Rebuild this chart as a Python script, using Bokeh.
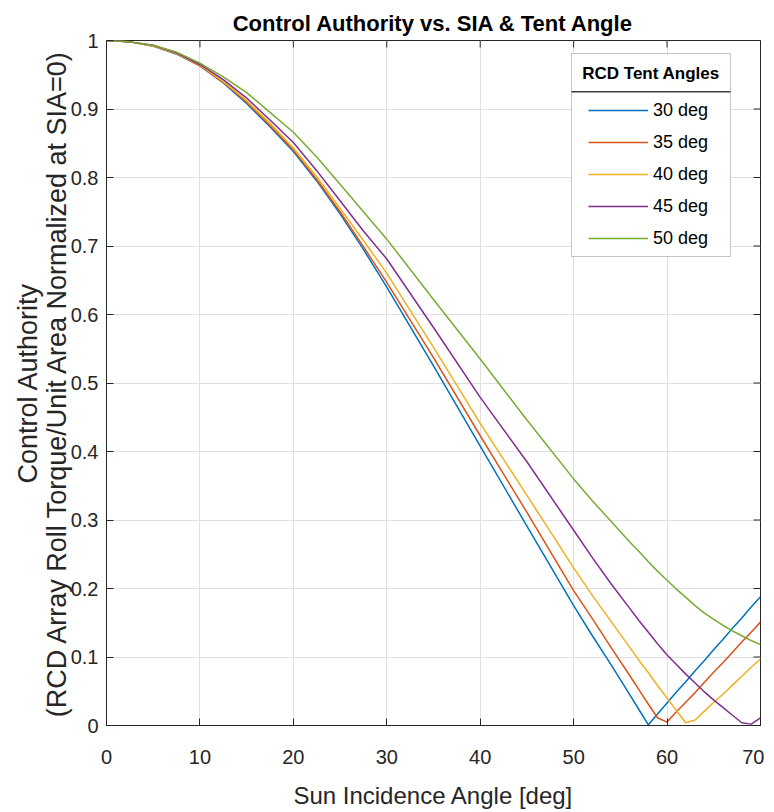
from bokeh.plotting import figure
from bokeh.models import (Range1d, FixedTicker, Legend, LegendItem,
                          BoxAnnotation, Label)
from bokeh.embed import file_html
from bokeh.resources import INLINE

# Sun incidence angle [deg]
sia = [0, 2.5, 5, 7.5, 10, 12.5, 15, 17.5, 20, 22.5, 25, 27.5, 30, 35, 40, 45, 50,
       52, 54, 56, 57, 58, 59, 60, 61, 62, 63, 64, 65, 66, 67, 68, 69, 70]

tent_30 = [1.000, 0.998, 0.992, 0.980, 0.963, 0.938, 0.908, 0.874, 0.838, 0.795, 0.747, 0.695,
           0.640, 0.525, 0.408, 0.291, 0.175, 0.131, 0.089, 0.045, 0.023, 0.001, 0.017, 0.033,
           0.049, 0.064, 0.080, 0.095, 0.111, 0.126, 0.142, 0.157, 0.173, 0.188]
tent_35 = [1.000, 0.998, 0.992, 0.981, 0.963, 0.939, 0.910, 0.876, 0.840, 0.797, 0.750, 0.699,
           0.647, 0.537, 0.423, 0.311, 0.197, 0.156, 0.114, 0.073, 0.052, 0.031, 0.011, 0.005,
           0.020, 0.034, 0.048, 0.063, 0.078, 0.092, 0.107, 0.122, 0.136, 0.151]
tent_40 = [1.000, 0.998, 0.992, 0.981, 0.964, 0.940, 0.912, 0.879, 0.843, 0.801, 0.755, 0.708,
           0.660, 0.552, 0.441, 0.336, 0.230, 0.190, 0.152, 0.114, 0.095, 0.077, 0.058, 0.040,
           0.022, 0.004, 0.008, 0.021, 0.034, 0.046, 0.059, 0.072, 0.085, 0.097]
tent_45 = [1.000, 0.998, 0.993, 0.982, 0.965, 0.943, 0.916, 0.884, 0.851, 0.810, 0.766, 0.722,
           0.681, 0.581, 0.479, 0.385, 0.285, 0.245, 0.207, 0.171, 0.153, 0.136, 0.119, 0.103,
           0.089, 0.075, 0.062, 0.049, 0.037, 0.026, 0.015, 0.004, 0.002, 0.011]
tent_50 = [1.000, 0.998, 0.993, 0.983, 0.967, 0.947, 0.924, 0.895, 0.866, 0.830, 0.790, 0.750,
           0.710, 0.622, 0.535, 0.446, 0.360, 0.328, 0.298, 0.268, 0.254, 0.239, 0.225, 0.212,
           0.199, 0.187, 0.175, 0.164, 0.155, 0.146, 0.138, 0.131, 0.124, 0.118]

series = [tent_30, tent_35, tent_40, tent_45, tent_50]
labels = ["30 deg", "35 deg", "40 deg", "45 deg", "50 deg"]
colors = ["#0072BD", "#D95319", "#EDB120", "#7E2F8E", "#77AC30"]

x_ticks = [0, 10, 20, 30, 40, 50, 60, 70]
y_ticks = [0, 0.1, 0.2, 0.3, 0.4, 0.5, 0.6, 0.7, 0.8, 0.9, 1]

FONT = "Liberation Sans"
AX = "#262626"

p = figure(frame_width=654, frame_height=685, output_backend="svg", toolbar_location=None,
           x_range=Range1d(x_ticks[0], x_ticks[-1]), y_range=Range1d(y_ticks[0], y_ticks[-1]),
           min_border_left=106, min_border_right=4, min_border_top=40, min_border_bottom=77)

p.title.text = "Control Authority vs. SIA & Tent Angle"
p.title.align = "center"
p.title.text_font = FONT
p.title.text_font_size = "22px"
p.title.text_font_style = "bold"
p.title.text_color = "#000000"
p.title.standoff = 9

p.outline_line_color = AX
p.outline_line_width = 1
p.outline_line_alpha = 1

for ax in (p.xaxis[0], p.yaxis[0]):
    ax.axis_line_color = AX
    ax.major_tick_line_color = AX
    ax.major_tick_in = 7
    ax.major_tick_out = 0
    ax.minor_tick_line_color = None
    ax.major_label_text_font = FONT
    ax.major_label_text_font_size = "20px"
    ax.major_label_text_color = AX
    ax.axis_label_text_color = AX
    ax.axis_label_text_font = FONT
    ax.axis_label_text_font_style = "normal"

p.xaxis.ticker = FixedTicker(ticks=x_ticks)
p.yaxis.ticker = FixedTicker(ticks=y_ticks)
p.yaxis.major_label_overrides = {t: f"{t:g}" for t in y_ticks}
p.xaxis.major_label_standoff = 24
p.yaxis.major_label_standoff = 8

p.xaxis.axis_label = "Sun Incidence Angle [deg]"
p.xaxis.axis_label_text_font_size = "24px"
p.xaxis.axis_label_standoff = 15

p.yaxis.axis_label = "Control Authority\n(RCD Array Roll Torque/Unit Area Normalized at SIA=0)"
p.yaxis.axis_label_text_font_size = "27px"
p.yaxis.axis_label_text_line_height = 0.95
p.yaxis.axis_label_standoff = -4

p.xgrid.ticker = FixedTicker(ticks=x_ticks)
p.ygrid.ticker = FixedTicker(ticks=y_ticks)
p.grid.grid_line_color = "#e0e0e0"
p.grid.grid_line_width = 1

# inward box ticks on top and right edges (derived from the tick lists)
tick_dy = (y_ticks[-1] - y_ticks[0]) * 7 / 685
tick_dx = (x_ticks[-1] - x_ticks[0]) * 7 / 654
p.segment(x0=x_ticks, y0=[y_ticks[-1]] * len(x_ticks), x1=x_ticks,
          y1=[y_ticks[-1] - tick_dy] * len(x_ticks), line_color=AX, line_width=1)
p.segment(x0=[x_ticks[-1]] * len(y_ticks), y0=y_ticks, x1=[x_ticks[-1] - tick_dx] * len(y_ticks),
          y1=y_ticks, line_color=AX, line_width=1)

renderers = []
for ys, c in zip(series, colors):
    r = p.line(sia, ys, line_color=c, line_width=1.5)
    renderers.append(r)

# legend box (screen units relative to plot frame)
box = BoxAnnotation(left=465, right=624, bottom=469, top=672,
                    left_units="screen", right_units="screen",
                    bottom_units="screen", top_units="screen",
                    fill_color="white", fill_alpha=1.0, line_color="#404040", line_width=1)
p.add_layout(box)
sep = BoxAnnotation(left=465, right=624, bottom=633, top=634.5,
                    left_units="screen", right_units="screen",
                    bottom_units="screen", top_units="screen",
                    fill_color="#404040", fill_alpha=1.0, line_alpha=0)
p.add_layout(sep)
ttl = Label(x=544.5, y=652, x_units="screen", y_units="screen",
            text="RCD Tent Angles", text_font=FONT, text_font_size="17px",
            text_font_style="bold", text_align="center", text_baseline="middle",
            text_color="#000000")
p.add_layout(ttl)

legend = Legend(items=[LegendItem(label=l, renderers=[r]) for l, r in zip(labels, renderers)],
                location=(482, 476), padding=0, margin=0, spacing=10,
                glyph_width=60, glyph_height=22, label_height=22, label_standoff=5,
                label_text_font=FONT, label_text_font_size="18px",
                label_text_color="#000000",
                border_line_color=None, background_fill_alpha=0)
p.add_layout(legend)

open("out.html", "w").write(file_html(p, INLINE))
